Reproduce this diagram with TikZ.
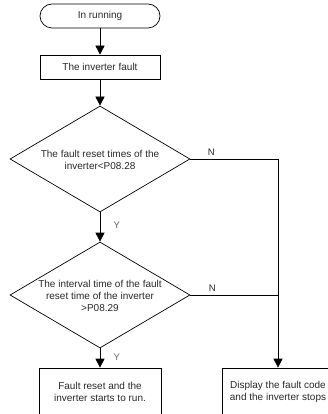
\documentclass[tikz,border=0pt]{standalone}
\usepackage{fontspec}
\setmainfont{Liberation Sans}
\usetikzlibrary{shapes.geometric, arrows.meta, positioning}
\definecolor{cText}{RGB}{40,40,40}
\definecolor{cLabel}{RGB}{100,100,100}
\tikzset{
	startstop/.style={rectangle, rounded corners=12pt, minimum width=120pt, minimum height=24pt, text centered, align=center, draw=black},
	process/.style  ={rectangle, minimum width=120pt, minimum height=24pt, text centered, align=center, draw=black},
	decision/.style ={diamond, minimum width=180pt, minimum height=106pt, inner sep=0pt, draw=black},
	dtext/.style    ={align=center, inner sep=0pt},
	flowarrow/.style={-{Triangle[length=9pt, width=9pt]}},
	yes/.style      ={text=cLabel, font=\fontsize{9.5}{10}\selectfont},
	no/.style       ={font=\fontsize{9.5}{10}\selectfont},
}
\begin{document}
\begin{tikzpicture}[x=1pt, y=-1pt, font=\fontsize{10}{12}\selectfont, line width=0.7pt, text=cText]
	\useasboundingbox (0,0) rectangle (328,414);
	\clip (0,0) rectangle (328,414);
	\node[startstop] (run) at (100,16) {In running};
	\node[process] (fault) at (100,67) {The inverter fault};
	\node[decision] (times) at (100,159) {};
	\node[dtext] (timestxt) at (100,160) {The fault reset times of the\\inverter<P08.28};
	\node[decision] (interval) at (100,295) {};
	\node[dtext] (intervaltxt) at (100,296) {The interval time of the fault\\reset time of the inverter\\>P08.29};
	\node[process, minimum height=48pt, minimum width=122pt] (reset) at (100,392) {Fault reset and the\\inverter starts to run.};
	\node[process, minimum height=48pt, minimum width=112pt] (stop) at (278,392) {Display the fault code\\and the inverter stops};
	\draw[flowarrow] (run) -- (fault);
	\draw[flowarrow] (fault) -- (times);
	\draw[flowarrow] (times) -- node[yes, right=10pt, pos=0.43] {Y} (interval);
	\draw[flowarrow] (interval) -- node[yes, right=10pt, pos=0.45] {Y} (reset);
	\draw[flowarrow] (times.east) -| node[no, above, pos=0.12] {N} (stop.north);
	\draw (interval.east) -- node[no, above, pos=0.25] {N} (interval.east -| stop.north);
\end{tikzpicture}
\end{document}
